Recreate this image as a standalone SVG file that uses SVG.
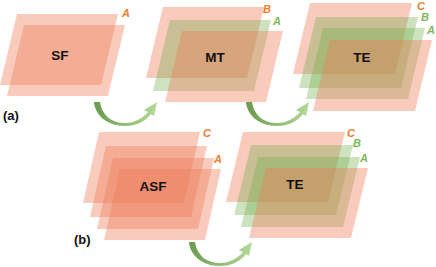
<svg xmlns="http://www.w3.org/2000/svg" xmlns:xlink="http://www.w3.org/1999/xlink" width="436" height="267" viewBox="0 0 436 267">
  <style>
    .pk { fill: #ED7D5A; fill-opacity: 0.4; }
    .gr { fill: #70AD47; fill-opacity: 0.35; }
    .name { font-family: "Liberation Sans", Arial, sans-serif; font-weight: bold; font-size: 13.5px; fill: #111; text-anchor: middle; }
    .lo { font-family: "Liberation Sans", Arial, sans-serif; font-weight: bold; font-style: italic; font-size: 11px; fill: #ED7D31; }
    .lg { font-family: "Liberation Sans", Arial, sans-serif; font-weight: bold; font-style: italic; font-size: 11px; fill: #7DB85A; }
    .cap { font-family: "Liberation Sans", Arial, sans-serif; font-weight: bold; font-size: 13px; fill: #111; }
  </style>
  <defs>
    <linearGradient id="ag" x1="0" y1="0" x2="1" y2="0">
      <stop offset="0" stop-color="#6A9A4E"/>
      <stop offset="0.5" stop-color="#93BC78"/>
      <stop offset="1" stop-color="#B2D998"/>
    </linearGradient>
    <path id="arrow" fill="url(#ag)" d="M1,1 L7,1 C9,14 18,22 32,22 C42,22 50,17 55,11 L51,9 L64,1 L61,15 L58,13 C52,21 43,25 32,25 C14,25 2,14 1,1 Z"/>
  </defs>

  <g id="node-SF">
    <polygon class="pk" points="17,14 118,14 101,85 0,85"/>
    <polygon class="pk" points="24,25 125,25 108,96 7,96"/>
    <text class="name" x="60" y="60">SF</text>
    <text class="lo" x="122" y="17">A</text>
  </g>

  <g id="node-MT">
    <polygon class="pk" points="163,7 264,7 247,78 146,78"/>
    <polygon class="gr" points="170,20 271,20 254,91 153,91"/>
    <polygon class="pk" points="182,31 283,31 266,102 165,102"/>
    <text class="name" x="215" y="62">MT</text>
    <text class="lo" x="263" y="13">B</text>
    <text class="lg" x="273" y="25">A</text>
  </g>

  <g id="node-TE-a">
    <polygon class="pk" points="310,3 412,3 395,74 293,74"/>
    <polygon class="gr" points="316,17 418,17 401,88 299,88"/>
    <polygon class="gr" points="323,28 425,28 408,99 306,99"/>
    <polygon class="pk" points="330,40 432,40 415,111 313,111"/>
    <text class="name" x="362" y="62">TE</text>
    <text class="lo" x="417" y="10">C</text>
    <text class="lg" x="421" y="21">B</text>
    <text class="lg" x="427" y="34">A</text>
  </g>

  <g id="node-ASF">
    <polygon class="pk" points="99,132 200,132 184,203 83,203"/>
    <polygon class="pk" points="106,146 207,146 191,217 90,217"/>
    <polygon class="pk" points="113,158 214,158 198,229 97,229"/>
    <polygon class="pk" points="120,169 221,169 205,240 104,240"/>
    <text class="name" x="153" y="191">ASF</text>
    <text class="lo" x="203" y="137">C</text>
    <text class="lo" x="214" y="163">A</text>
  </g>

  <g id="node-TE-b">
    <polygon class="pk" points="243,132 345,132 328,202 226,202"/>
    <polygon class="gr" points="251,145 353,145 336,215 234,215"/>
    <polygon class="gr" points="258,157 360,157 343,227 241,227"/>
    <polygon class="pk" points="266,168 368,168 351,238 249,238"/>
    <text class="name" x="295" y="189">TE</text>
    <text class="lo" x="347" y="137">C</text>
    <text class="lg" x="353" y="147">B</text>
    <text class="lg" x="360" y="162">A</text>
  </g>

  <g id="caption-a"><text class="cap" x="3" y="120">(a)</text></g>
  <g id="caption-b"><text class="cap" x="74" y="244">(b)</text></g>

  <g id="connectors">
    <use xlink:href="#arrow" x="93" y="101"/>
    <use xlink:href="#arrow" x="245" y="101"/>
    <use xlink:href="#arrow" x="188" y="241"/>
  </g>
</svg>
